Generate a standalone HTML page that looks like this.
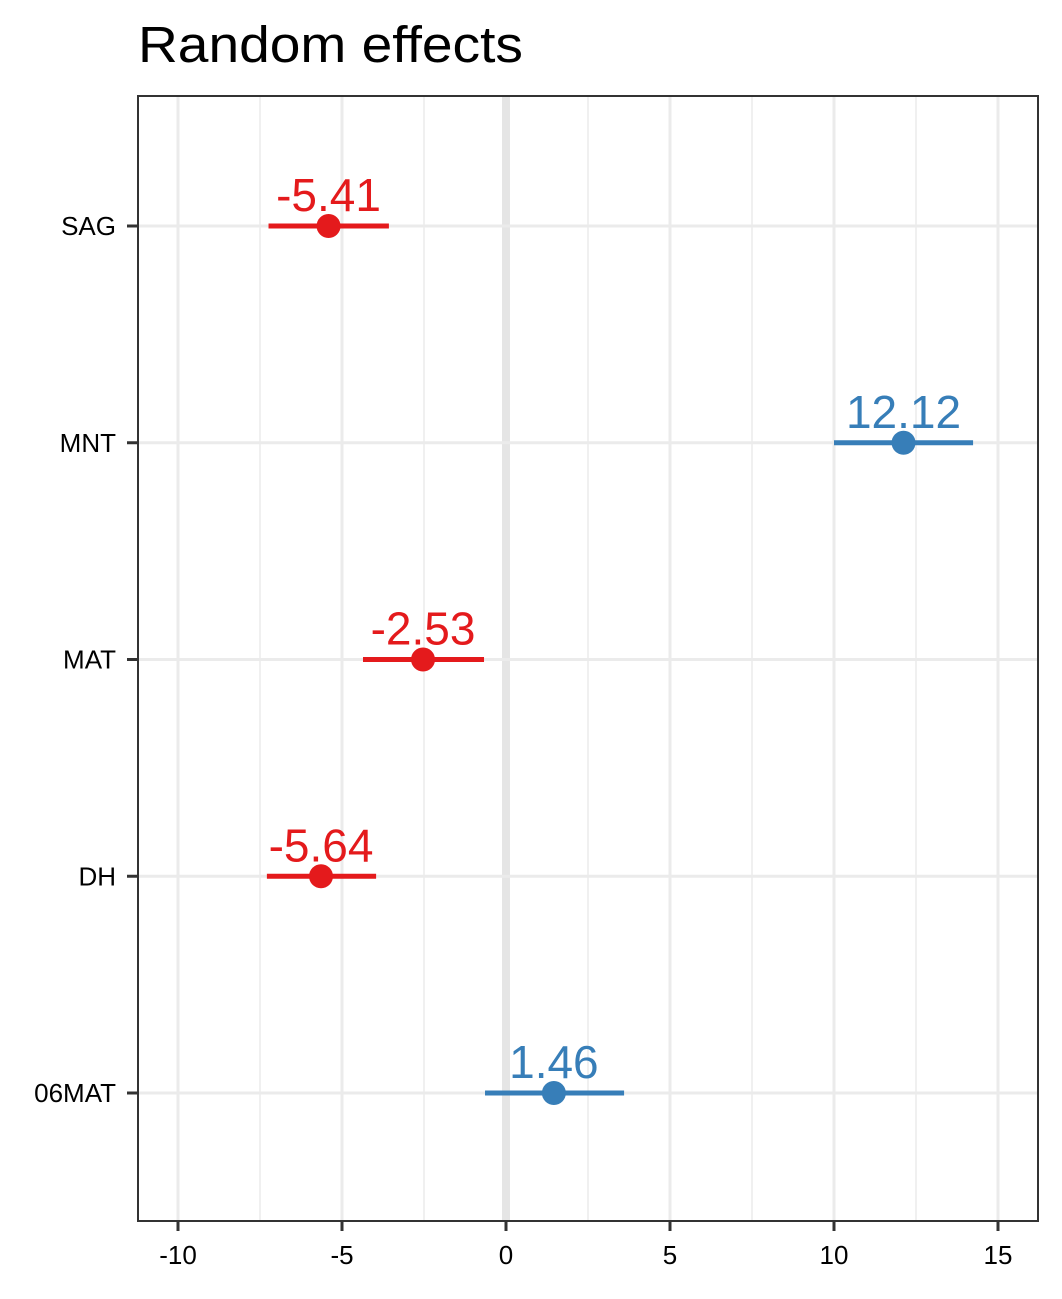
<!DOCTYPE html>
<html><head><meta charset="utf-8"><style>
html,body{margin:0;padding:0;background:#fff;}
svg{display:block;font-family:"Liberation Sans",Arial,sans-serif;}
</style></head><body>
<svg id="chart" width="1062" height="1299" viewBox="0 0 1062 1299" xmlns="http://www.w3.org/2000/svg">
<text x="138" y="62" font-size="51" textLength="385" lengthAdjust="spacingAndGlyphs" fill="#000">Random effects</text>
<g id="grid"></g>
<g id="marks"></g>
<rect x="138" y="96" width="900" height="1125" fill="none" stroke="#333" stroke-width="2"/>
<g id="axes"></g>
</svg>
<script>
const categories = ["SAG","MNT","MAT","DH","06MAT"];
const estimates = [-5.41, 12.12, -2.53, -5.64, 1.46];
const lowerCI = [-7.24, 10.0, -4.36, -7.29, -0.64];
const upperCI = [-3.57, 14.24, -0.67, -3.96, 3.6];
const xTicks = [-10, -5, 0, 5, 10, 15];
const xMinor = [-7.5, -2.5, 2.5, 7.5, 12.5];

const NS = "http://www.w3.org/2000/svg";
const L = 138, R = 1038, T = 96, B = 1221;
function x(v){ return 506 + v * 32.8; }
function y(i){ return 226 + i * 216.75; }
function mk(tag, attrs, parent){
  const e = document.createElementNS(NS, tag);
  for (const k in attrs) e.setAttribute(k, attrs[k]);
  parent.appendChild(e); return e;
}
const grid = document.getElementById('grid');
const marks = document.getElementById('marks');
const axes = document.getElementById('axes');

xMinor.forEach(v => {
  const l = mk('line', {x1:x(v), x2:x(v), y1:T, y2:B, stroke:'#ebebeb', 'stroke-width':1.5}, grid);
  
  
});
xTicks.forEach(v => {
  const l = mk('line', {x1:x(v), x2:x(v), y1:T, y2:B, stroke:'#ebebeb', 'stroke-width':3}, grid);
  
  
  const t = mk('line', {x1:x(v), x2:x(v), y1:B, y2:B+10, stroke:'#333', 'stroke-width':3}, axes);
  
  
  const tx = mk('text', {x:x(v), y:B+43, 'font-size':26, 'text-anchor':'middle', fill:'#000'}, axes);
  tx.textContent = v;
  
  
});
const zl = mk('line', {x1:x(0), x2:x(0), y1:T, y2:B, stroke:'#e5e5e5', 'stroke-width':8}, grid);



categories.forEach((c, i) => {
  const g = mk('line', {x1:L, x2:R, y1:y(i), y2:y(i), stroke:'#ebebeb', 'stroke-width':3}, grid);
  
  
  const t = mk('line', {x1:L-11, x2:L, y1:y(i), y2:y(i), stroke:'#333', 'stroke-width':3}, axes);
  
  
  const tx = mk('text', {x:L-22, y:y(i)+9, 'font-size':26, 'text-anchor':'end', fill:'#000'}, axes);
  tx.textContent = c;
  
  

  const col = estimates[i] < 0 ? '#E41A1C' : '#377EB8';
  const bar = mk('line', {x1:x(lowerCI[i]), x2:x(upperCI[i]), y1:y(i), y2:y(i), stroke:col, 'stroke-width':5}, marks);
  
  
  const pt = mk('circle', {cx:x(estimates[i]), cy:y(i), r:12, fill:col}, marks);
  
  
  const lb = mk('text', {x:x(estimates[i]), y:y(i)-15, 'font-size':46, 'text-anchor':'middle', fill:col}, marks);
  lb.textContent = estimates[i].toFixed(2);
  
  
});
</script>
</body></html>
